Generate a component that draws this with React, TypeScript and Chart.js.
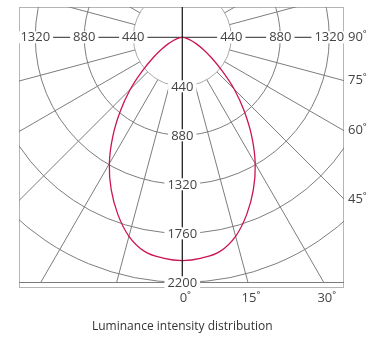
import React, { useEffect, useRef } from "react";
import { Chart, registerables } from "chart.js";

Chart.register(...registerables);

// Luminous intensity (cd) by angle from nadir (degrees), symmetric distribution
const ANGLES = [0, 5, 10, 15, 20, 25, 30, 35, 40, 45, 50, 55, 60, 65, 70, 75, 80, 85, 90];
const INTENSITY = [2005, 1990, 1952, 1850, 1692, 1510, 1310, 1088, 865, 660, 465, 320, 215, 140, 85, 45, 20, 5, 0];

const RING_VALUES = [440, 880, 1320, 1760, 2200];
const H_LABELS = [440, 880, 1320];
const RIGHT_ANGLE_LABELS = [90, 75, 60, 45];
const BOTTOM_ANGLE_LABELS = [0, 15, 30];
const RADIAL_STEP = 15;
const TITLE = "Luminance intensity distribution";

const X_MIN = -1466;
const X_MAX = 1452;
const Y_MIN = -272;
const Y_MAX = 2251;

const FONT = "13px 'Open Sans', 'Noto Sans', sans-serif";

const polarGrid = {
  id: "polarGrid",
  beforeDatasetsDraw(chart: any) {
    const { ctx, chartArea, scales } = chart;
    const { left, right, top, bottom } = chartArea;
    const xs = scales.x;
    const ys = scales.y;
    const cx = xs.getPixelForValue(0);
    const cy = ys.getPixelForValue(0);
    const pxPer = (xs.getPixelForValue(1000) - cx) / 1000;
    const outer = RING_VALUES[RING_VALUES.length - 1];
    const yBase = ys.getPixelForValue(outer);

    ctx.save();
    ctx.lineWidth = 1;
    ctx.strokeStyle = "#b5b5b5";
    ctx.strokeRect(left + 0.5, top + 0.5, right - left - 1, bottom - top - 1);

    ctx.save();
    ctx.beginPath();
    ctx.rect(left, top, right - left, yBase - top);
    ctx.clip();
    RING_VALUES.forEach((v, i) => {
      ctx.beginPath();
      ctx.arc(cx, cy, v * pxPer, 0, Math.PI * 2);
      ctx.strokeStyle = i === 0 ? "#aaaaaa" : "#7d7d7d";
      ctx.stroke();
    });
    ctx.strokeStyle = "#7d7d7d";
    for (let a = 0; a < 360; a += RADIAL_STEP) {
      if (a % 90 === 0) continue;
      const rad = (a * Math.PI) / 180;
      const dx = Math.sin(rad);
      const dy = Math.cos(rad);
      const r0 = RING_VALUES[0] * pxPer;
      const r1 = outer * 3 * pxPer;
      ctx.beginPath();
      ctx.moveTo(cx + dx * r0, cy + dy * r0);
      ctx.lineTo(cx + dx * r1, cy + dy * r1);
      ctx.stroke();
    }
    ctx.restore();

    // base line
    ctx.strokeStyle = "#7d7d7d";
    ctx.beginPath();
    ctx.moveTo(left, Math.round(yBase) + 0.5);
    ctx.lineTo(right, Math.round(yBase) + 0.5);
    ctx.stroke();

    // horizontal axis
    ctx.strokeStyle = "#555555";
    ctx.lineWidth = 1.2;
    ctx.beginPath();
    ctx.moveTo(left, cy);
    ctx.lineTo(right, cy);
    ctx.stroke();
    ctx.restore();
  },
  afterDatasetsDraw(chart: any) {
    const { ctx, chartArea, scales } = chart;
    const { left, right, top } = chartArea;
    const xs = scales.x;
    const ys = scales.y;
    const cx = xs.getPixelForValue(0);
    const cy = ys.getPixelForValue(0);
    const outer = RING_VALUES[RING_VALUES.length - 1];
    const yBase = ys.getPixelForValue(outer);

    ctx.save();
    // vertical axis
    ctx.strokeStyle = "#111111";
    ctx.lineWidth = 1.2;
    ctx.beginPath();
    ctx.moveTo(cx, top);
    ctx.lineTo(cx, yBase);
    ctx.stroke();

    ctx.font = FONT;
    ctx.textAlign = "center";
    ctx.textBaseline = "middle";

    const boxed = (text: string, x: number, y: number) => {
      const w = ctx.measureText(text).width;
      ctx.fillStyle = "#ffffff";
      ctx.fillRect(x - w / 2 - 3, y - 6, w + 6, 12);
      ctx.fillStyle = "#444444";
      ctx.fillText(text, x, y + 0.5);
    };

    H_LABELS.forEach((v) => {
      boxed(String(v), xs.getPixelForValue(-v), cy);
      boxed(String(v), xs.getPixelForValue(v), cy);
    });
    RING_VALUES.forEach((v) => {
      boxed(String(v), cx, ys.getPixelForValue(v));
    });

    ctx.fillStyle = "#444444";
    ctx.textAlign = "left";
    RIGHT_ANGLE_LABELS.forEach((a) => {
      const rad = (a * Math.PI) / 180;
      const yy = a === 90 ? cy : cy + (right - cx) / Math.tan(rad);
      ctx.fillText(a + "˚", right + 4, yy);
    });
    ctx.textAlign = "center";
    BOTTOM_ANGLE_LABELS.forEach((a) => {
      const rad = (a * Math.PI) / 180;
      const xx = cx + (yBase - cy) * Math.tan(rad);
      ctx.fillText(a + "˚", xx + 3, yBase + 16);
    });

    ctx.font = "12px 'Open Sans', 'Noto Sans', sans-serif";
    ctx.fillStyle = "#333333";
    ctx.fillText(TITLE, cx, 327);
    ctx.restore();
  },
};

export default function App() {
  const canvasRef = useRef<HTMLCanvasElement | null>(null);

  useEffect(() => {
    if (!canvasRef.current) return;
    const half = ANGLES.map((a, i) => ({ a, v: INTENSITY[i] }));
    const full = [
      ...half.slice().reverse().map((p) => ({ a: -p.a, v: p.v })),
      ...half.slice(1),
    ];
    const data = full.map((p) => {
      const rad = (p.a * Math.PI) / 180;
      return { x: p.v * Math.sin(rad), y: p.v * Math.cos(rad) };
    });

    const chart = new Chart(canvasRef.current, {
      type: "scatter",
      data: {
        datasets: [
          {
            data,
            showLine: true,
            borderColor: "#cc1452",
            borderWidth: 1.3,
            pointRadius: 0,
            tension: 0.4,
            fill: false,
          },
        ],
      },
      options: {
        animation: false,
        responsive: true,
        maintainAspectRatio: false,
        layout: { padding: { left: 19, right: 44, top: 7, bottom: 55 } },
        plugins: { legend: { display: false }, tooltip: { enabled: false }, title: { display: false } },
        scales: {
          x: { type: "linear", display: false, min: X_MIN, max: X_MAX },
          y: { type: "linear", display: false, reverse: true, min: Y_MIN, max: Y_MAX },
        },
      },
      plugins: [polarGrid],
    });
    return () => chart.destroy();
  }, []);

  return (
    <div style={{ position: "absolute", left: 0, top: 0, width: 388, height: 343, background: "#fff" }}>
      <canvas ref={canvasRef} />
    </div>
  );
}
